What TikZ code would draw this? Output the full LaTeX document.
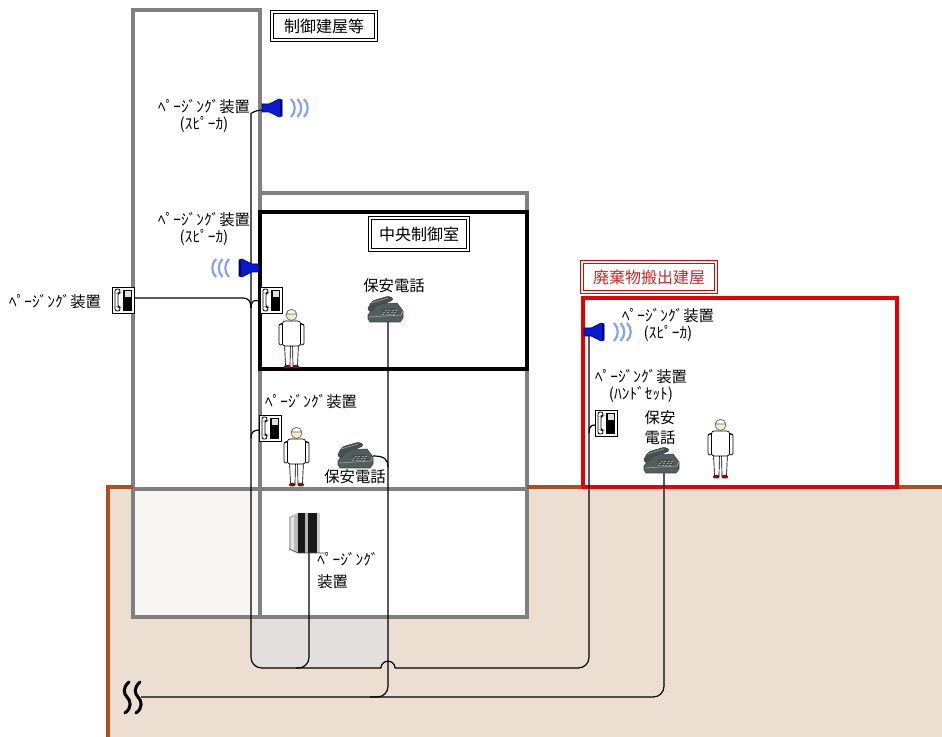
\documentclass[tikz,border=0pt]{standalone}
\usepackage{fontspec}
\newfontfamily\jp{Noto Sans CJK JP}
\usepackage{tikz}
\usetikzlibrary{backgrounds}

\definecolor{wallgray}{RGB}{128,128,128}
\definecolor{soil}{RGB}{236,223,209}
\definecolor{soiledge}{RGB}{176,78,28}
\definecolor{trench}{RGB}{226,223,220}
\definecolor{basement}{RGB}{248,246,243}
\definecolor{wastered}{RGB}{232,0,0}
\definecolor{signred}{RGB}{205,40,40}
\definecolor{spkblue}{RGB}{10,25,210}
\definecolor{spknavy}{RGB}{0,0,110}
\definecolor{wavebl}{RGB}{130,160,245}
\definecolor{phonegray}{RGB}{82,94,94}
\definecolor{phonelite}{RGB}{150,162,160}
\definecolor{shoered}{RGB}{120,20,20}
\definecolor{skin}{RGB}{245,236,200}

\begin{document}
\begin{tikzpicture}[x=0.75pt, y=-0.75pt,
  wall/.style={draw=wallgray, line width=2.8pt},
  cable/.style={draw=black, line width=0.9pt},
  lbl/.style={font=\jp\fontsize{11.5}{13}\selectfont, inner sep=0pt, align=center},
  sign/.style={draw=#1, double, double distance=1.6pt, line width=0.6pt, fill=white, inner sep=0pt, font=\jp\fontsize{12}{14}\selectfont},
  sign/.default=black,
  speaker/.pic={
    \filldraw[fill=spkblue, draw=spknavy, line width=0.4pt] (-10,-4) -- (-3,-4) -- (7,-9) -- (10,-8) -- (10,8) -- (7,9) -- (-3,4) -- (-10,4) -- cycle;
    \fill[spknavy] (8,-8.5) -- (10,-8) -- (10,8) -- (8,8.5) -- cycle;
    \coordinate (-back) at (-10,2);
    \coordinate (-foot) at (-5,4);
  },
  waves/.pic={
    \foreach \i in {0,1,2}
      \draw[wavebl, line width=1.6pt] (6.5*\i,-9) .. controls (6.5*\i+5,-4) and (6.5*\i+5,4) .. (6.5*\i,9);
  },
  handset/.pic={
    \filldraw[fill=white, line width=0.6pt] (-11,-13) rectangle (11,13);
    \filldraw[fill=white, line width=0.6pt, rounded corners=1.5] (-3,-11) -- (-8,-11) -- (-8,11) -- (-3,11) -- (-3,7) -- (-5,7) -- (-5,-7) -- (-3,-7) -- cycle;
    \fill (0,-10) rectangle (9,11);
    \fill[gray!25] (1.5,-8.5) rectangle (7.5,-2.5);
    \coordinate (-w) at (-11,2);
    \coordinate (-e) at (11,-2);
  },
  phone/.pic={
    \filldraw[fill=phonegray, draw=black!75, line width=0.4pt] (-17,6) -- (-9,-5) -- (12,-6) -- (18,2) -- (18,9) -- (15,13) -- (-15,13) -- (-17,10) -- cycle;
    \draw[phonelite, line width=0.5pt] (-16,8) -- (16,6) -- (18,2);
    \fill[black!70] (-4,0) -- (10,-1) -- (14,5) -- (-1,6) -- cycle;
    \foreach \r in {0,1,2}
      \foreach \c in {0,...,3}
        \fill[phonelite] (-0.5+3.6*\c-1.2*\r,1.2+1.8*\r) rectangle ++(2,1);
    \filldraw[fill=phonegray!85!black, draw=black!75, line width=0.4pt, rounded corners=2] (-18,1) -- (-13,-8) -- (4,-13) -- (9,-10) -- (4,-7) -- (-10,-3) -- (-13,3) -- cycle;
    \draw[phonelite, line width=0.5pt] (-14,-6) -- (3,-11);
    \coordinate (-foot) at (3,13);
    \coordinate (-e) at (18,1);
  },
  worker/.pic={
    \begin{scope}[line width=0.5pt]
      \filldraw[fill=white] (-7,5) -- (-1,5) -- (-1.5,28) -- (-6,28) -- cycle;
      \filldraw[fill=white] (1,5) -- (7,5) -- (6,28) -- (1.5,28) -- cycle;
      \fill[shoered, rounded corners=1] (-7.5,27) rectangle (-1,30.5);
      \fill[shoered, rounded corners=1] (1,27) rectangle (7.5,30.5);
      \filldraw[fill=white, rounded corners=1.5] (-12.5,-14) rectangle (-8.5,7);
      \filldraw[fill=white, rounded corners=1.5] (8.5,-14) rectangle (12.5,7);
      \filldraw[fill=white, rounded corners=2] (-9,-17) rectangle (9,8);
      \draw (-9,-15) -- (-12.5,-13);
      \draw (9,-15) -- (12.5,-13);
      \filldraw[fill=skin, draw=black!60] (0,-23) circle (5.5);
      \fill[white] (-5,-24) .. controls (-5,-30) and (5,-30) .. (5,-24) -- cycle;
      \draw[black!60] (-5,-24) .. controls (-5,-30) and (5,-30) .. (5,-24) -- cycle;
    \end{scope}
  },
  pagerunit/.pic={
    \fill[gray!55] (-17,-16) -- (-8,-20) -- (-8,20) -- (-17,16) -- cycle;
    \fill[gray!20] (-15,-15) -- (-12,-16.5) -- (-12,17.5) -- (-15,16) -- cycle;
    \fill[black!90] (-8,-20) rectangle (14,20);
    \fill[gray!60] (-1,-20) rectangle (2,20);
    \fill[gray!40] (11,-20) rectangle (14,20);
    \draw[black!70, line width=0.5pt] (-17,16) -- (-8,20) -- (19,20);
    \coordinate (-foot) at (3,20);
  }]

\useasboundingbox (0,0) rectangle (942,737);

\begin{pgfonlayer}{background}
% ground and buildings
\fill[soil] (108,487) rectangle (942,737);
\fill[white] (133,10) rectangle (260,617);
\fill[white] (260,193) rectangle (527,617);
\fill[basement] (133,489) rectangle (260,617);
\fill[trench, rounded corners=8] (251,617) -- (251,668) -- (388,668) -- (388,617) -- cycle;
\draw[wall] (133,10) rectangle (260,617);
\draw[wall] (260,193) rectangle (527,617);
\draw[wall] (133,489) -- (527,489);
\draw[line width=3.3pt] (260,212) rectangle (527,369);
\draw[soiledge, line width=2.4pt] (108,737) -- (108,487) -- (133,487);
\draw[soiledge, line width=2.4pt] (527,487) -- (942,487);
\filldraw[fill=white, draw=wastered, line width=3.2pt] (583,298) rectangle (897,487);
\end{pgfonlayer}

% building names
\node[sign, minimum width=78pt, minimum height=21pt] (bldgMain) at (324,26) {制御建屋等};
\node[sign, minimum width=73pt, minimum height=24pt] (ctrlRoom) at (419,234) {中央制御室};
\node[sign=wastered, text=signred, minimum width=101pt, minimum height=22pt] (wasteBldg) at (649,277) {廃棄物搬出建屋};

% paging equipment
\pic (spkA) at (272,108) {speaker};
\pic at (291,108) {waves};
\pic[xscale=-1] (spkB) at (249,268) {speaker};
\pic[xscale=-1] at (229,268) {waves};
\pic (spkC) at (594,332) {speaker};
\pic at (614,332) {waves};
\pic (hsA) at (123,300) {handset};
\pic (hsB) at (271,300) {handset};
\pic (hsC) at (270,428) {handset};
\pic (hsD) at (606,423) {handset};
\pic (pager) at (306,533) {pagerunit};

% security phones
\pic (telA) at (385,309) {phone};
\pic (telB) at (355,455) {phone};
\pic (telC) at (661,460) {phone};

% staff
\pic at (291.5,338) {worker};
\pic at (296.5,456) {worker};
\pic at (720.5,448) {worker};

\node[lbl] (lblSpkA) at (204,116) {ﾍﾟｰｼﾞﾝｸﾞ装置\\(ｽﾋﾟｰｶ)};
\node[lbl] (lblSpkB) at (204,229) {ﾍﾟｰｼﾞﾝｸﾞ装置\\(ｽﾋﾟｰｶ)};
\node[lbl] (lblHsA) at (55,302) {ﾍﾟｰｼﾞﾝｸﾞ装置};
\node[lbl] (lblHsC) at (311,402) {ﾍﾟｰｼﾞﾝｸﾞ装置};
\node[lbl] (lblTelA) at (394,286) {保安電話};
\node[lbl] (lblTelB) at (355,477) {保安電話};
\node[lbl, align=left, anchor=west, font=\jp\fontsize{11.5}{16.5}\selectfont] (lblPager) at (317,571) {ﾍﾟｰｼﾞﾝｸﾞ\\装置};
\node[lbl] (lblSpkC) at (668,325) {ﾍﾟｰｼﾞﾝｸﾞ装置\\(ｽﾋﾟｰｶ)};
\node[lbl] (lblHsD) at (641,386) {ﾍﾟｰｼﾞﾝｸﾞ装置\\(ﾊﾝﾄﾞｾｯﾄ)};
\node[lbl, font=\jp\fontsize{11.5}{15}\selectfont] (lblTelC) at (660,428) {保安\\電話};

% cable continues off site
\coordinate (offsite) at (141,697);
\foreach \bx in {127,138}
  \draw[line width=2.3pt, line cap=round] (\bx+2,682) .. controls (\bx-5,688) and (\bx-3,694) .. (\bx,697) .. controls (\bx+4,701) and (\bx+5,708) .. (\bx-2,713);

\begin{pgfonlayer}{background}
% paging line
\draw[cable, rounded corners=8] (spkA-back) .. controls (255,110) and (251,114) .. (251,124) -- (251,668) -- (381,668);
\draw[cable] (381,668) .. controls (381,659) and (395,659) .. (395,668);
\draw[cable, rounded corners=8] (395,668) -| (spkC-foot);
\draw[cable, rounded corners=8] (pager-foot) |- (296,668);
\draw[cable] (hsA-e) -- (243,298) .. controls (248,298) and (251,301) .. (251,308);
\draw[cable] (251,308) .. controls (251,302) and (254,298) .. (hsB-w);
\draw[cable] (hsC-w) .. controls (254,430) and (251,432) .. (251,438);
\draw[cable] (hsD-w) .. controls (591,425) and (589,427) .. (589,433);
% security phone line
\draw[cable, rounded corners=8] (telA-foot) |- (370,697);
\draw[cable, rounded corners=8] (offsite) -| (telC-foot);
\draw[cable] (telB-e) .. controls (384,456) and (388,459) .. (388,467);
\end{pgfonlayer}
\end{tikzpicture}
\end{document}
